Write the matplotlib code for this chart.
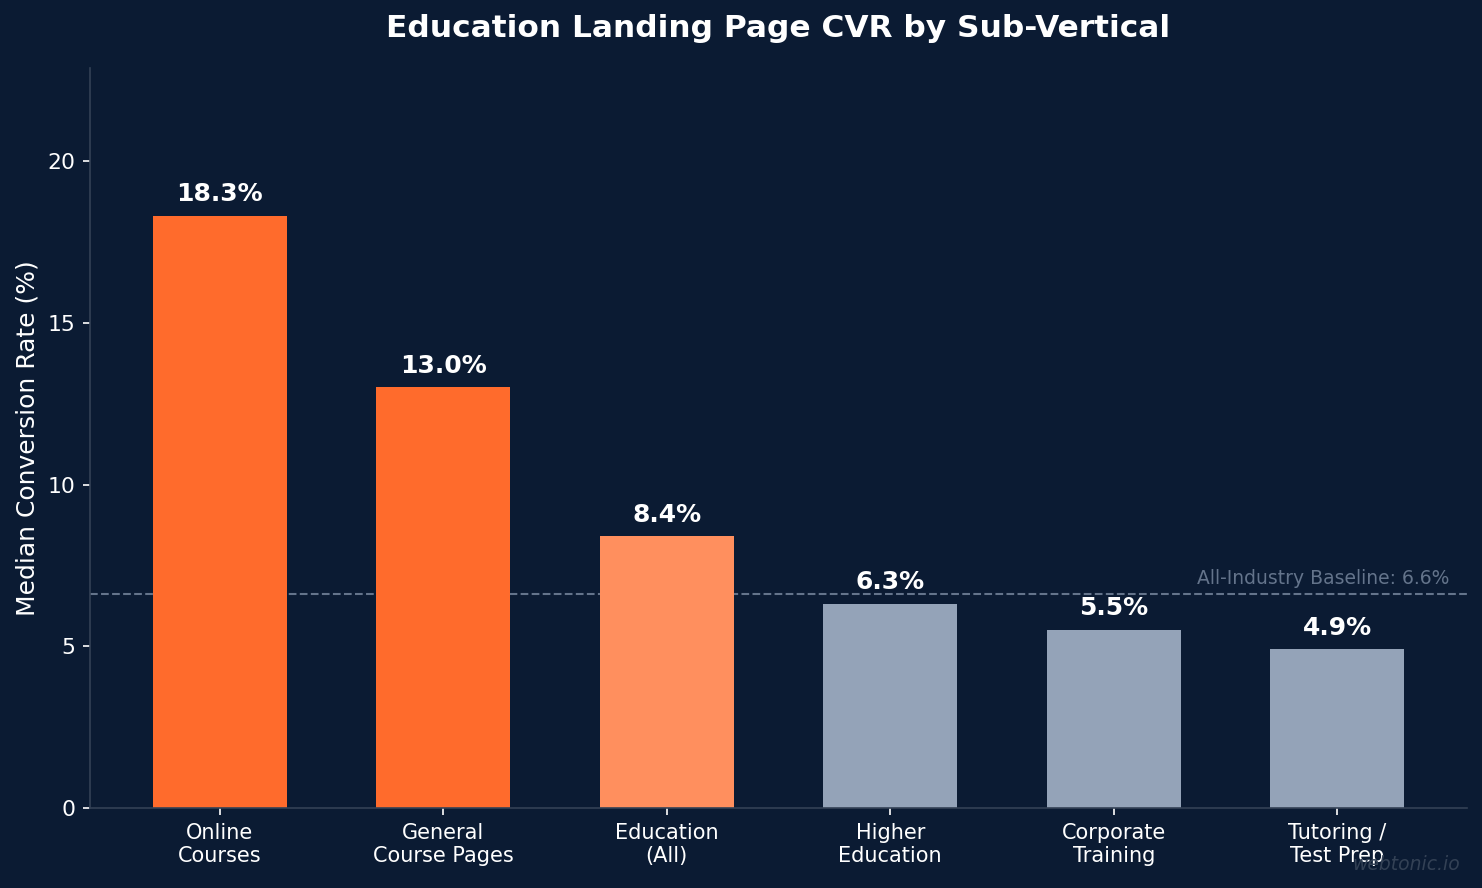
import matplotlib
matplotlib.use("Agg")
import matplotlib.pyplot as plt
import numpy as np

categories = ["Online\nCourses", "General\nCourse Pages", "Education\n(All)",
              "Higher\nEducation", "Corporate\nTraining", "Tutoring /\nTest Prep"]
cvr = [18.3, 13.0, 8.4, 6.3, 5.5, 4.9]
bar_colors = ["#FF6B2C", "#FF6B2C", "#FF8F5E", "#94A3B8", "#94A3B8", "#94A3B8"]
baseline = 6.6

BG = "#0B1B33"

fig, ax = plt.subplots(figsize=(9.88, 5.92), dpi=150)
fig.patch.set_facecolor(BG)
ax.set_facecolor(BG)

x = np.arange(len(categories))
bars = ax.bar(x, cvr, width=0.6, color=bar_colors, zorder=2)

for b, v in zip(bars, cvr):
    ax.text(b.get_x() + b.get_width() / 2, v + 0.3, f"{v:.1f}%",
            ha="center", va="bottom", color="white", fontsize=12, fontweight="bold")

ax.axhline(baseline, color="#64748B", linestyle="--", linewidth=1, zorder=1)
ax.text(5.5, baseline + 0.2, f"All-Industry Baseline: {baseline}%",
        ha="right", va="bottom", color="#64748B", fontsize=9)

ax.set_xticks(x)
ax.set_xticklabels(categories, color="white", fontsize=10)
ax.set_ylim(0, max(cvr) * 1.25)
ax.set_yticks([0, 5, 10, 15, 20])
ax.tick_params(axis="y", colors="white", labelsize=10.5)
ax.tick_params(axis="x", colors="white")
ax.set_ylabel("Median Conversion Rate (%)", color="white", fontsize=12)
ax.set_title("Education Landing Page CVR by Sub-Vertical", color="white",
             fontsize=15, fontweight="bold", pad=15)

for s in ["top", "right"]:
    ax.spines[s].set_visible(False)
for s in ["left", "bottom"]:
    ax.spines[s].set_color("#334155")

fig.text(0.985, 0.016, "webtonic.io", ha="right", va="bottom", color="#334155",
         fontsize=9, style="italic")

fig.subplots_adjust(left=0.0607, right=0.9899, bottom=0.0901, top=0.9234)
plt.savefig("out.png", dpi=150, facecolor=BG)
